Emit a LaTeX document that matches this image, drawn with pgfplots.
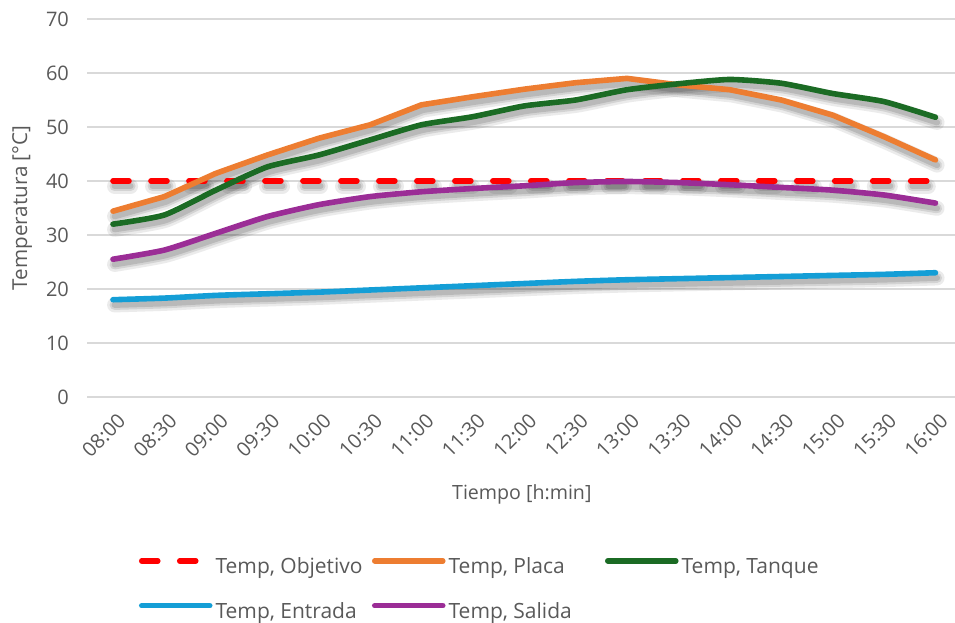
\documentclass[border=0pt]{standalone}
\usepackage{fontspec}
\setmainfont{Open Sans}
\usepackage{pgfplots}
\usepackage{pgfplotstable}
\pgfplotsset{compat=1.18}

\definecolor{txtgray}{RGB}{89,89,89}
\definecolor{gridgray}{RGB}{217,217,217}
\definecolor{cobj}{RGB}{255,0,0}
\definecolor{cplaca}{RGB}{237,125,49}
\definecolor{ctanque}{RGB}{27,107,36}
\definecolor{centrada}{RGB}{20,158,214}
\definecolor{csalida}{RGB}{155,45,150}

% Temperatures every 30 min, 08:00 (idx 0) to 16:00 (idx 16)
\pgfplotstableread{
idx obj placa tanque entrada salida
0  40 34.4 32.0 18.0 25.5
1  40 37.1 33.7 18.3 27.2
2  40 41.4 38.3 18.8 30.3
3  40 44.8 42.6 19.1 33.4
4  40 47.9 44.8 19.4 35.6
5  40 50.4 47.6 19.8 37.1
6  40 54.1 50.4 20.2 38.0
7  40 55.6 51.9 20.6 38.6
8  40 57.0 53.9 21.0 39.1
9  40 58.2 55.0 21.4 39.7
10 40 59.0 56.9 21.7 39.9
11 40 57.8 58.0 21.9 39.7
12 40 56.9 58.8 22.1 39.3
13 40 55.0 58.1 22.3 38.8
14 40 52.2 56.2 22.5 38.3
15 40 48.2 54.7 22.7 37.4
16 40 43.9 51.8 23.0 35.9
}\datatable

\newcommand{\lbl}[1]{\makebox[78.25pt][l]{#1}}

\tikzset{
  shadowA/.style={draw=black, opacity=0.08, line width=7.5pt, line cap=round, line join=round,
                  transform canvas={xshift=0.8pt,yshift=-2.6pt}},
  shadowB/.style={draw=black, opacity=0.10, line width=5pt, line cap=round, line join=round,
                  transform canvas={xshift=0.8pt,yshift=-2.6pt}},
  shadowC/.style={draw=black, opacity=0.12, line width=3pt, line cap=round, line join=round,
                  transform canvas={xshift=0.8pt,yshift=-2.6pt}},
  objdash/.style={dash pattern=on 8pt off 11pt},
}

\begin{document}
\begin{tikzpicture}
\begin{axis}[
  scale only axis,
  width=434pt, height=189pt,
  xmin=-0.5, xmax=16.38,
  ymin=0, ymax=70,
  xtick={0,...,16},
  xticklabels={08:00,08:30,09:00,09:30,10:00,10:30,11:00,11:30,12:00,12:30,13:00,13:30,14:00,14:30,15:00,15:30,16:00},
  ytick={0,10,...,70},
  axis line style={draw=none},
  major tick length=0pt,
  ymajorgrids,
  grid style={draw=gridgray, line width=0.75pt},
  /pgf/number format/assume math mode=true,
  tick label style={font=\fontsize{10}{12}\selectfont, text=txtgray},
  yticklabel style={inner sep=0pt, xshift=-9pt},
  xticklabel style={inner sep=0pt, xshift=4.5pt, yshift=-10pt, rotate=45, anchor=east},
  every axis x label/.style={at={(axis description cs:0.5008,-0.257)}, anchor=center,
    font=\fontsize{9.8}{12}\selectfont, text=txtgray},
  every axis y label/.style={at={(axis description cs:-0.075,0.5)}, rotate=90, anchor=center,
    font=\fontsize{10.3}{12}\selectfont, text=txtgray},
  xlabel={Tiempo [h:min]},
  ylabel={Temperatura [°C]},
  legend columns=3,
  legend cell align=left,
  legend image code/.code={\draw[#1] (0pt,3.75pt) -- (34pt,3.75pt);},
  legend style={draw=none, fill=none, font=\fontsize{10.5}{12}\selectfont, text=txtgray,
    at={(axis description cs:0.0522,-0.415)}, anchor=north west,
    nodes={inner sep=0pt, text height=7.5pt, text depth=2pt},
    row sep=12.5pt,
    /tikz/every odd column/.append style={column sep=1.5pt}},
  every axis plot/.append style={line width=2.8pt, line cap=round, line join=round},
]
% soft drop shadows
\pgfplotsinvokeforeach{shadowA,shadowB,shadowC}{
  \addplot[#1, objdash, forget plot] table[x=idx, y=obj] {\datatable};
  \addplot[#1, forget plot] table[x=idx, y=placa] {\datatable};
  \addplot[#1, smooth, tension=0.35, forget plot] table[x=idx, y=tanque] {\datatable};
  \addplot[#1, smooth, tension=0.35, forget plot] table[x=idx, y=entrada] {\datatable};
  \addplot[#1, smooth, tension=0.35, forget plot] table[x=idx, y=salida] {\datatable};
}
% series
\addplot[cobj, objdash] table[x=idx, y=obj] {\datatable};
\addlegendentry{\lbl{Temp, Objetivo}}
\addplot[cplaca] table[x=idx, y=placa] {\datatable};
\addlegendentry{\lbl{Temp, Placa}}
\addplot[ctanque, smooth, tension=0.35] table[x=idx, y=tanque] {\datatable};
\addlegendentry{\lbl{Temp, Tanque}}
\addplot[centrada, smooth, tension=0.35] table[x=idx, y=entrada] {\datatable};
\addlegendentry{\lbl{Temp, Entrada}}
\addplot[csalida, smooth, tension=0.35] table[x=idx, y=salida] {\datatable};
\addlegendentry{\lbl{Temp, Salida}}
\end{axis}
\pgfresetboundingbox
\path[use as bounding box] (-43.65pt,-113pt) rectangle (434pt,198.5pt);
\end{tikzpicture}
\end{document}
